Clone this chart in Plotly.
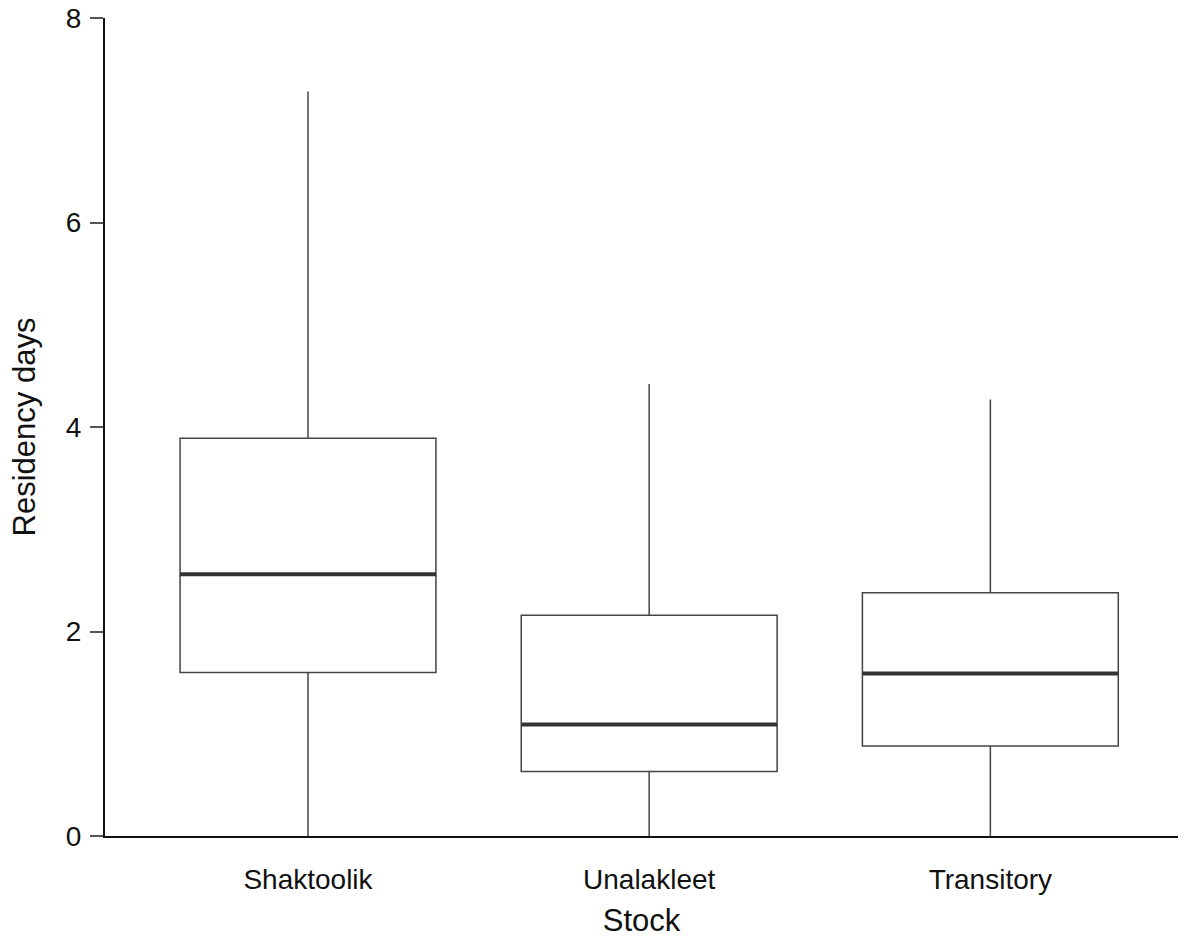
import plotly.graph_objects as go

stocks = ["Shaktoolik", "Unalakleet", "Transitory"]
lower = [0.0, 0.0, 0.0]
q1 = [1.60, 0.63, 0.88]
median = [2.56, 1.09, 1.59]
q3 = [3.89, 2.16, 2.38]
upper = [7.28, 4.42, 4.27]

positions = list(range(len(stocks)))
box_width = 0.75

fig = go.Figure()
for i, s in enumerate(stocks):
    fig.add_trace(go.Box(
        x=[positions[i]], q1=[q1[i]], median=[median[i]], q3=[q3[i]],
        lowerfence=[lower[i]], upperfence=[upper[i]],
        width=box_width, whiskerwidth=0,
        fillcolor="white", line=dict(color="#444444", width=1.5),
        boxpoints=False, showlegend=False, name=s, hoverinfo="skip",
    ))
    fig.add_trace(go.Scatter(
        x=[positions[i] - box_width / 2, positions[i] + box_width / 2],
        y=[median[i], median[i]], mode="lines",
        line=dict(color="#333333", width=4), showlegend=False, hoverinfo="skip",
    ))

fig.update_layout(
    width=1190, height=941,
    margin=dict(l=105, r=12, t=18, b=105),
    plot_bgcolor="white", paper_bgcolor="white",
    font=dict(family="Liberation Sans, Arial, sans-serif", color="#111111", size=28),
    xaxis=dict(
        range=[-0.595, 2.55], tickmode="array", tickvals=positions, ticktext=stocks,
        showline=True, linecolor="#111111", linewidth=2, ticks="", showgrid=False,
        zeroline=False, ticklabelstandoff=17, automargin=False,
        tickfont=dict(size=28),
        title=dict(text="Stock", font=dict(size=31), standoff=16),
    ),
    yaxis=dict(
        range=[0, 8], tickvals=[0, 2, 4, 6, 8],
        showline=True, linecolor="#111111", linewidth=2, ticks="outside",
        ticklen=13, tickwidth=1.5, tickcolor="#555555", showgrid=False,
        zeroline=False, ticklabelstandoff=3, automargin=False,
        tickfont=dict(size=28),
        title=dict(text="Residency days", font=dict(size=31), standoff=21),
    ),
)

fig.write_html("out.html", config={"displayModeBar": False},
               post_script="document.body.style.margin='0';")
